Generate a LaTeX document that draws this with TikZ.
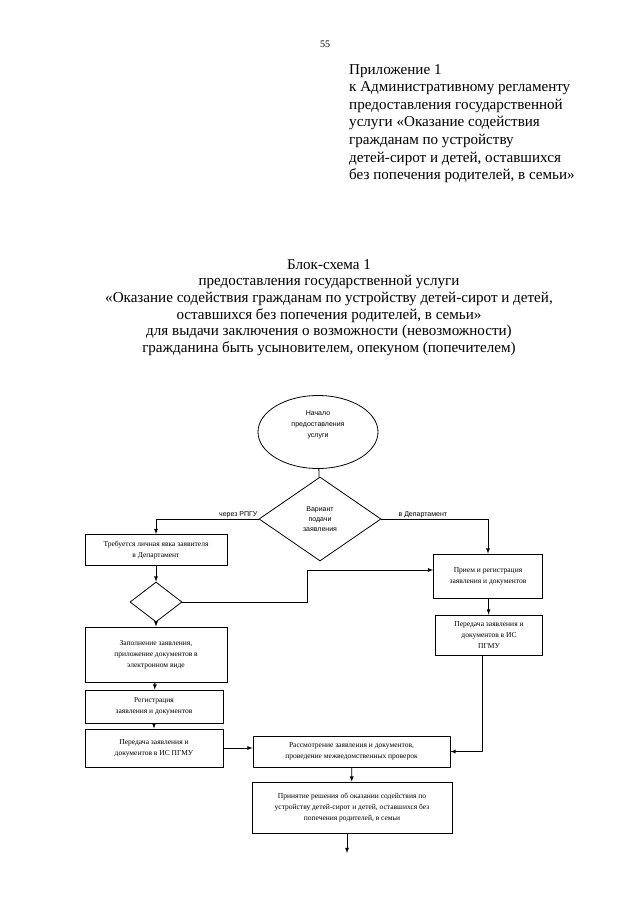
\documentclass[tikz,border=0pt]{standalone}
\usepackage{fontspec}
\setmainfont{Liberation Serif}
\setsansfont{Liberation Sans}
\usetikzlibrary{shapes.geometric}
\tikzset{
  blok/.style={draw,line width=0.8pt,rectangle,align=center,inner sep=1pt,
    font=\fontsize{7.5}{11}\selectfont},
  romb/.style={draw,line width=0.8pt,diamond,inner sep=0pt,align=center,
    font=\sffamily\fontsize{7}{10}\selectfont},
  metka/.style={font=\sffamily\fontsize{7}{9}\selectfont,inner sep=1pt},
  strelka/.style={line width=0.8pt,-latex}
}
\begin{document}
\begin{tikzpicture}[x=1pt,y=-1pt]
  \useasboundingbox (0,0) rectangle (640,905);
  \node[font=\fontsize{10}{12}\selectfont] (nomer) at (325,44) {55};
  \node[anchor=north west,align=left,inner sep=0pt,font=\fontsize{15.1}{17.6}\selectfont] (pril) at (349,64)
    {Приложение 1\\к Административному регламенту\\предоставления государственной\\услуги «Оказание содействия\\гражданам по устройству\\детей-сирот и детей, оставшихся\\без попечения родителей, в семьи»};
  \node[anchor=north,align=center,inner sep=0pt,font=\fontsize{15.1}{16.7}\selectfont] (zagl) at (329,259)
    {Блок-схема 1\\предоставления государственной услуги\\«Оказание содействия гражданам по устройству детей-сирот и детей,\\оставшихся без попечения родителей, в семьи»\\для выдачи заключения о возможности (невозможности)\\гражданина быть усыновителем, опекуном (попечителем)};

  \node[draw,line width=0.8pt,ellipse,minimum width=120pt,minimum height=73pt,align=center,
    font=\sffamily\fontsize{7}{11}\selectfont] (nachalo) at (318,432) {Начало\\предоставления\\услуги\\[4pt]};
  \node[romb,minimum width=122pt,minimum height=84pt] (variant) at (320,519) {Вариант\\подачи\\заявления};
  \node[metka,anchor=south east] (rpgu) at (variant.west) {через РПГУ};
  \node[metka,anchor=south west] (depart) at ([xshift=16pt]variant.east) {в Департамент};

  \node[blok,minimum width=142pt,minimum height=31pt] (yavka) at (156,550) {Требуется личная явка заявителя\\в Департамент};
  \node[romb,minimum width=52pt,minimum height=40pt] (vybor) at (156,602) {};
  \node[blok,minimum width=142pt,minimum height=55pt] (zapoln) at (156,654.5) {Заполнение заявления,\\приложение документов в\\электронном виде};
  \node[blok,minimum width=138pt,minimum height=33pt] (regist) at (154,706.5) {Регистрация\\заявления и документов};
  \node[blok,minimum width=138pt,minimum height=38pt] (peredL) at (154,748) {Передача заявления и\\документов в ИС ПГМУ};

  \node[blok,minimum width=109pt,minimum height=44pt] (priem) at (488,576) {Прием и регистрация\\заявления и документов};
  \node[blok,minimum width=107pt,minimum height=40pt] (peredR) at (489,635) {Передача заявления и\\документов в ИС\\ПГМУ};

  \node[blok,minimum width=197pt,minimum height=31pt] (rassm) at (351.5,751.5) {Рассмотрение заявления и документов,\\проведение межведомственных проверок};
  \node[blok,minimum width=200pt,minimum height=51pt] (reshenie) at (352,807.5) {Принятие решения об оказании содействия по\\устройству детей-сирот и детей, оставшихся без\\попечения родителей, в семьи};
  \coordinate (konec) at (347,853);

  \draw[line width=0.8pt] (nachalo) -- (variant);
  \draw[strelka] (variant.west) -| (yavka.north);
  \draw[strelka] (variant.east) -| (priem.north);
  \draw[strelka] (yavka) -- (vybor);
  \draw[strelka] (vybor) -- (zapoln);
  \draw[strelka] (zapoln) -- (regist);
  \draw[strelka] (regist) -- (peredL);
  \draw[strelka] (vybor.east) -- ++(125,0) |- ([yshift=6pt]priem.west);
  \draw[strelka] (priem) -- (peredR);
  \draw[strelka] ([xshift=-7pt]peredR.south) |- (rassm.east);
  \draw[strelka] (peredL.east) -- (peredL.east -| rassm.west);
  \draw[strelka] (rassm) -- (reshenie);
  \draw[strelka] (reshenie.south -| konec) -- (konec);
\end{tikzpicture}
\end{document}
